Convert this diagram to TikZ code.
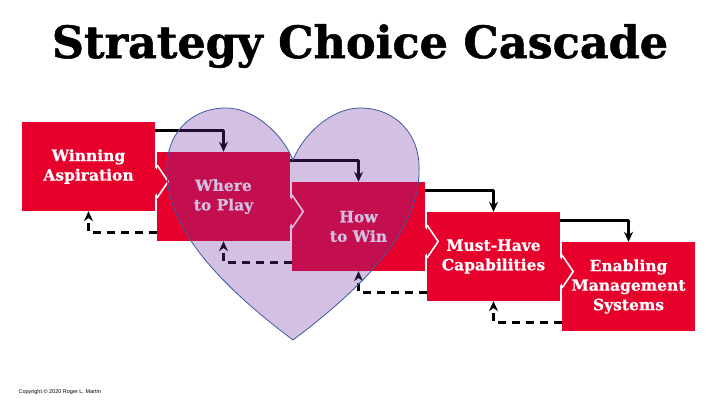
\documentclass[tikz,border=0pt]{standalone}
\usepackage{fontspec}
\setmainfont{DejaVu Serif}
\setsansfont{Liberation Sans}
\newfontfamily\heavyfont{DejaVu Serif Bold}[FakeBold=1.2]
\newfontfamily\stagefont{DejaVu Serif Bold}[FakeBold=0.6]
\usetikzlibrary{calc,arrows.meta}
\definecolor{cascadered}{RGB}{232,0,44}
\definecolor{heartfill}{RGB}{112,48,160}
\definecolor{heartline}{RGB}{60,90,160}
\begin{document}
\begin{tikzpicture}[x=1pt, y=-1pt, line join=round, >={Stealth[length=10pt,width=9pt]},
	stage/.style={fill=cascadered, minimum width=133pt, minimum height=89pt, inner sep=0pt, align=center, text=white, font=\stagefont\fontsize{15.5}{19.5}\selectfont},
	flow/.style={->, line width=2.8pt},
	feedback/.style={->, line width=2.8pt, dash pattern=on 8pt off 6pt}]
	\useasboundingbox (0,0) rectangle (720,405);
	\node[font=\heavyfont\fontsize{44.5}{50}\selectfont, anchor=base] (title) at (360,58) {Strategy Choice Cascade};
	% the five choices
	\foreach\i/\t in {1/{Winning\\Aspiration},2/{Where\\to Play},3/{How\\to Win},4/{Must-Have\\Capabilities},5/{Enabling\\Management\\Systems}}
	{\node[stage] (s\i) at ({88.5+135*(\i-1)},{166.5+30*(\i-1)}) {\t};}
	% chevron joints and arrows
	\foreach\i [count=\j from 2] in {1,...,4}
	{\coordinate (p\i) at ($(s\i.east)+(0,15)$);
		\fill[cascadered] ($(p\i)+(-1,-15)$) -- ($(p\i)+(11,0)$) -- ($(p\i)+(-1,15)$) -- cycle;
		\draw[white, line width=1.6pt] ($(p\i)+(1.8,-16.5)$) -- ($(p\i)+(13,0)$) -- ($(p\i)+(1.8,16.5)$);
		\draw[flow] ($(s\i.north east)+(0,9)$) -| (s\j.north);
		\draw[feedback] ($(s\j.south west)+(0,-9)$) -| (s\i.south);
	}
	% heart
	\filldraw[fill=heartfill, fill opacity=0.3, draw=heartline, line width=0.8pt] (293,160) .. controls (283,135) and (255,108) .. (226,108) .. controls (190,108) and (165,135) .. (167,172) .. controls (167,225) and (213,280) .. (293,340) .. controls (373,280) and (419,225) .. (419,172) .. controls (421,135) and (396,108) .. (360,108) .. controls (331,108) and (303,135) .. (293,160) -- cycle;
	\node[font=\sffamily\fontsize{5.5}{6.5}\selectfont, anchor=west] (note) at (15,392) {Copyright © 2020 Roger L. Martin};
\end{tikzpicture}
\end{document}
